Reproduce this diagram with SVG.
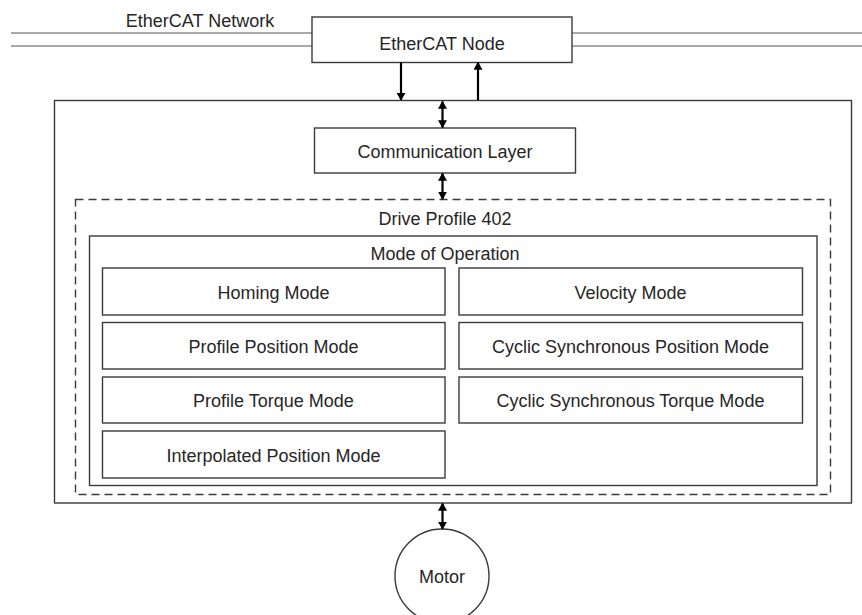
<svg xmlns="http://www.w3.org/2000/svg" width="862" height="615" viewBox="0 0 862 615">
<style>
  .box { fill: #ffffff; stroke: #3a3a3a; stroke-width: 1.4; }
  .dash { fill: none; stroke: #3a3a3a; stroke-width: 1.4; stroke-dasharray: 8 5; }
  .net { stroke: #555555; stroke-width: 1.2; fill: none; }
  .arr { stroke: #000000; stroke-width: 2.2; fill: none; }
  text { font-family: "Liberation Sans", Arial, sans-serif; font-size: 18px; fill: #262626; }
  .c { text-anchor: middle; }
</style>
<defs>
  <marker id="ah" viewBox="0 0 10 10" refX="9" refY="5" markerWidth="8" markerHeight="9" markerUnits="userSpaceOnUse" orient="auto-start-reverse" preserveAspectRatio="none">
    <path d="M0,0 L10,5 L0,10 z" fill="#000000"/>
  </marker>
</defs>
<rect width="862" height="615" fill="#ffffff"/>

<g id="network">
  <line class="net" x1="11" y1="33" x2="312" y2="33"/>
  <line class="net" x1="11" y1="46" x2="312" y2="46"/>
  <line class="net" x1="572" y1="33" x2="862" y2="33"/>
  <line class="net" x1="572" y1="46" x2="862" y2="46"/>
  <text x="200" y="26.5" class="c">EtherCAT Network</text>
</g>

<g id="ethercat-node">
  <rect class="box" x="312" y="17" width="260" height="45.5"/>
  <text x="442" y="50" class="c">EtherCAT Node</text>
</g>

<g id="device">
  <rect class="box" x="54.5" y="100.5" width="797" height="402.5"/>
</g>

<g id="communication-layer">
  <rect class="box" x="314.5" y="128" width="261" height="45"/>
  <text x="445" y="157.5" class="c">Communication Layer</text>
</g>

<g id="drive-profile">
  <rect class="dash" x="75.5" y="199.5" width="755" height="295"/>
  <text x="445" y="225" class="c">Drive Profile 402</text>
</g>

<g id="mode-of-operation">
  <rect class="box" x="89.5" y="236" width="727.5" height="249.5"/>
  <text x="445" y="260" class="c">Mode of Operation</text>
</g>

<g id="homing-mode">
  <rect class="box" x="102.5" y="268" width="342.5" height="47"/>
  <text x="273.5" y="299" class="c">Homing Mode</text>
</g>
<g id="velocity-mode">
  <rect class="box" x="459" y="268" width="343.5" height="47"/>
  <text x="630.5" y="299" class="c">Velocity Mode</text>
</g>
<g id="profile-position-mode">
  <rect class="box" x="102.5" y="322.5" width="342.5" height="46.5"/>
  <text x="273.5" y="353" class="c">Profile Position Mode</text>
</g>
<g id="cyclic-sync-position-mode">
  <rect class="box" x="459" y="322.5" width="343.5" height="46.5"/>
  <text x="630.5" y="353" class="c">Cyclic Synchronous Position Mode</text>
</g>
<g id="profile-torque-mode">
  <rect class="box" x="102.5" y="377" width="342.5" height="46"/>
  <text x="273.5" y="406.5" class="c">Profile Torque Mode</text>
</g>
<g id="cyclic-sync-torque-mode">
  <rect class="box" x="459" y="377" width="343.5" height="46"/>
  <text x="630.5" y="406.5" class="c">Cyclic Synchronous Torque Mode</text>
</g>
<g id="interpolated-position-mode">
  <rect class="box" x="102.5" y="431" width="342.5" height="47"/>
  <text x="273.5" y="461.5" class="c">Interpolated Position Mode</text>
</g>

<g id="motor">
  <circle class="box" cx="442" cy="576" r="47"/>
  <text x="442" y="582.5" class="c">Motor</text>
</g>

<g id="connectors">
  <line class="arr" x1="401" y1="62.5" x2="401" y2="100" marker-end="url(#ah)"/>
  <line class="arr" x1="478" y1="100" x2="478" y2="62.5" marker-end="url(#ah)"/>
  <line class="arr" x1="442.5" y1="101.5" x2="442.5" y2="127.5" marker-start="url(#ah)" marker-end="url(#ah)"/>
  <line class="arr" x1="442.5" y1="173.5" x2="442.5" y2="199" marker-start="url(#ah)" marker-end="url(#ah)"/>
  <line class="arr" x1="442.5" y1="503.5" x2="442.5" y2="529" marker-start="url(#ah)" marker-end="url(#ah)"/>
</g>
</svg>
